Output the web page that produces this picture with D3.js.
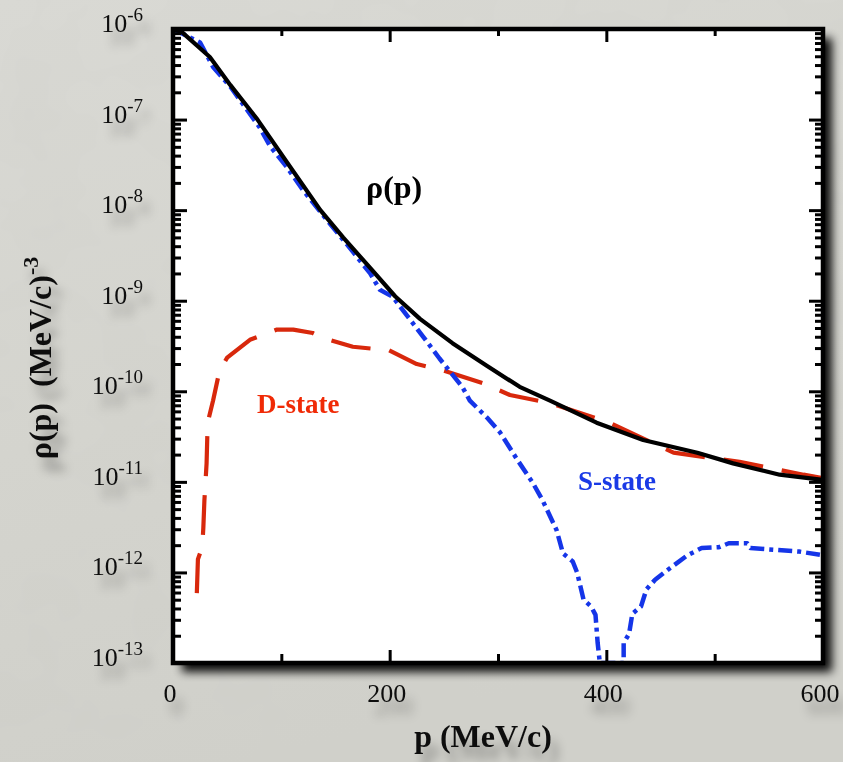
<!DOCTYPE html>
<html>
<head>
<meta charset="utf-8">
<script src="https://cdn.jsdelivr.net/npm/d3@7"></script>
<style>
  html, body { margin: 0; padding: 0; background: #d6d6d0; }
  svg { display: block; }
  text { font-family: "Liberation Serif", "Times New Roman", Times, serif; }
</style>
</head>
<body>
<svg id="chart" width="843" height="762"></svg>
<script>
// Momentum distribution of the nucleon: total, S-wave and D-wave parts.
const totalP   = [0, 8, 34, 53, 78, 105, 136, 157, 182, 205, 228, 258, 290, 320, 348, 391, 434, 484, 517, 560, 594, 600];
const totalRho = [1.0e-6, 9.3e-7, 4.9e-7, 2.4e-7, 1.0e-7, 3.4e-8, 1.0e-8, 5.0e-9, 2.3e-9, 1.12e-9, 6.3e-10, 3.4e-10,
                  1.9e-10, 1.12e-10, 7.9e-11, 4.5e-11, 2.9e-11, 2.1e-11, 1.6e-11, 1.2e-11, 1.07e-11, 1.05e-11];

const sStateP   = [0, 25, 37, 53, 80, 90, 105, 120, 142, 165, 182, 191, 203, 210, 231, 246, 267, 274, 290, 302,
                   318, 332, 341, 354, 360, 369, 373, 379, 386, 390, 392, 394, 398, 413, 416, 416, 421, 424, 432,
                   437, 445, 459, 475, 488, 504, 513, 530, 533, 578, 600];
const sStateRho = [1.0e-6, 7.1e-7, 3.8e-7, 2.3e-7, 8.2e-8, 5.0e-8, 3.0e-8, 1.66e-8, 7.8e-9, 3.6e-9, 2.0e-9, 1.32e-9,
                   1.10e-9, 8.5e-10, 4.0e-10, 2.3e-10, 1.12e-10, 7.9e-11, 5.1e-11, 3.5e-11, 1.74e-11, 9.8e-12,
                   6.3e-12, 2.95e-12, 1.62e-12, 1.32e-12, 1.0e-12, 5.0e-13, 4.2e-13, 3.4e-13, 1.66e-13, 1.0e-13,
                   1.0e-13, 1.0e-13, 1.0e-13, 1.66e-13, 2.1e-13, 3.5e-13, 4.2e-13, 6.5e-13, 8.3e-13, 1.12e-12,
                   1.55e-12, 1.86e-12, 1.9e-12, 2.1e-12, 2.1e-12, 1.86e-12, 1.7e-12, 1.55e-12];

const dStateP   = [22, 23, 27, 28, 29, 31, 32, 37, 43, 50, 71, 96, 111, 129, 138, 166, 191, 198, 225, 249, 286,
                   311, 348, 403, 462, 523, 582, 600];
const dStateRho = [5.9e-13, 1.4e-12, 1.9e-12, 3.1e-12, 6.3e-12, 1.6e-11, 4.5e-11, 7.9e-11, 1.7e-10, 2.35e-10,
                   3.7e-10, 4.8e-10, 4.8e-10, 4.4e-10, 3.9e-10, 3.1e-10, 2.9e-10, 2.9e-10, 2.0e-10, 1.7e-10,
                   1.23e-10, 9.1e-11, 7.4e-11, 4.5e-11, 2.1e-11, 1.66e-11, 1.2e-11, 1.1e-11];

const xMajorTicks = [0, 200, 400, 600];
const xMinorTicks = [100, 300, 500];
const yExponents  = [-13, -12, -11, -10, -9, -8, -7, -6];

const W = 843, H = 762;
const plot = { left: 173, right: 823, top: 29, bottom: 663 };

const svg = d3.select("#chart");
const defs = svg.append("defs");

// ---- filters and paints ----
const bgGrad = defs.append("linearGradient").attr("id", "bgGrad")
  .attr("x1", 0).attr("y1", 0).attr("x2", 0.3).attr("y2", 1);
bgGrad.append("stop").attr("offset", "0%").attr("stop-color", "#dcdcd7");
bgGrad.append("stop").attr("offset", "55%").attr("stop-color", "#d7d7d1");
bgGrad.append("stop").attr("offset", "100%").attr("stop-color", "#d3d3cd");

const grain = defs.append("filter").attr("id", "grain")
  .attr("x", 0).attr("y", 0).attr("width", 1).attr("height", 1);
grain.append("feTurbulence").attr("type", "fractalNoise").attr("baseFrequency", 0.85)
  .attr("numOctaves", 2).attr("seed", 3).attr("result", "n");
grain.append("feColorMatrix").attr("in", "n").attr("type", "matrix")
  .attr("values", "0 0 0 0 0.45  0 0 0 0 0.45  0 0 0 0 0.42  0 0 0 0 0.08");

const mottle = defs.append("filter").attr("id", "mottle")
  .attr("x", 0).attr("y", 0).attr("width", 1).attr("height", 1);
mottle.append("feTurbulence").attr("type", "fractalNoise").attr("baseFrequency", 0.012)
  .attr("numOctaves", 3).attr("seed", 11).attr("result", "n");
mottle.append("feColorMatrix").attr("in", "n").attr("type", "matrix")
  .attr("values", "0 0 0 0 0.6  0 0 0 0 0.6  0 0 0 0 0.57  0 0 0 -0.35 0.2");

const frameBlur = defs.append("filter").attr("id", "frameBlur")
  .attr("x", "-10%").attr("y", "-10%").attr("width", "120%").attr("height", "120%");
frameBlur.append("feGaussianBlur").attr("stdDeviation", 5);

const soft = defs.append("filter").attr("id", "soft")
  .attr("x", "-30%").attr("y", "-40%").attr("width", "160%").attr("height", "220%");
soft.append("feGaussianBlur").attr("in", "SourceAlpha").attr("stdDeviation", 5).attr("result", "b");
soft.append("feOffset").attr("in", "b").attr("dx", 7).attr("dy", 13).attr("result", "o");
soft.append("feFlood").attr("flood-color", "#000").attr("flood-opacity", 0.3).attr("result", "f");
soft.append("feComposite").attr("in", "f").attr("in2", "o").attr("operator", "in").attr("result", "s");
const sm = soft.append("feMerge");
sm.append("feMergeNode").attr("in", "s");
sm.append("feMergeNode").attr("in", "SourceGraphic");

defs.append("clipPath").attr("id", "plotClip").append("rect")
  .attr("x", plot.left).attr("y", plot.top)
  .attr("width", plot.right - plot.left).attr("height", plot.bottom - plot.top);

// ---- background ----
svg.append("rect").attr("width", W).attr("height", H).attr("fill", "url(#bgGrad)");
svg.append("rect").attr("width", W).attr("height", H).attr("filter", "url(#mottle)");
svg.append("rect").attr("width", W).attr("height", H).attr("filter", "url(#grain)");

// ---- scales ----
const x = d3.scaleLinear().domain([0, 600]).range([plot.left, plot.right]);
const y = d3.scaleLog().domain([1e-13, 1e-6]).range([plot.bottom, plot.top]);

// ---- plot panel with drop shadow ----
svg.append("rect")
  .attr("x", plot.left + 9).attr("y", plot.top + 9)
  .attr("width", plot.right - plot.left).attr("height", plot.bottom - plot.top)
  .attr("fill", "#000").attr("opacity", 0.95).attr("filter", "url(#frameBlur)");
svg.append("rect")
  .attr("x", plot.left).attr("y", plot.top)
  .attr("width", plot.right - plot.left).attr("height", plot.bottom - plot.top)
  .attr("fill", "#fff");

// ---- curves ----
const line = d3.line().x(d => x(d[0])).y(d => y(d[1]));
const curves = svg.append("g").attr("clip-path", "url(#plotClip)")
  .attr("fill", "none").attr("stroke-linejoin", "round");

curves.append("path")
  .attr("d", line(dStateP.map((p, i) => [p, dStateRho[i]])))
  .attr("stroke", "#d8280c").attr("stroke-width", 4.2)
  .attr("stroke-dasharray", "40,19");

curves.append("path")
  .attr("d", line(sStateP.map((p, i) => [p, sStateRho[i]])))
  .attr("stroke", "#1535e8").attr("stroke-width", 4.5)
  .attr("stroke-dasharray", "14,5,4,5");

curves.append("path")
  .attr("d", line(totalP.map((p, i) => [p, totalRho[i]])))
  .attr("stroke", "#000").attr("stroke-width", 4.2);

// ---- axes (ticks drawn inward on all four sides) ----
const yMajor = yExponents.map(e => Math.pow(10, e));
const yMinor = [];
yExponents.slice(0, -1).forEach(e => {
  for (let m = 2; m <= 9; m++) yMinor.push(m * Math.pow(10, e));
});

function styleAxis(g) {
  g.select(".domain").remove();
  g.selectAll(".tick line").attr("stroke", "#000").attr("stroke-width", 3);
  g.selectAll(".tick text").remove();
}

svg.append("g").attr("transform", `translate(${plot.left},0)`)
  .call(d3.axisLeft(y).tickValues(yMajor).tickSize(-14).tickFormat("")).call(styleAxis);
svg.append("g").attr("transform", `translate(${plot.left},0)`)
  .call(d3.axisLeft(y).tickValues(yMinor).tickSize(-8).tickFormat("")).call(styleAxis);
svg.append("g").attr("transform", `translate(${plot.right},0)`)
  .call(d3.axisRight(y).tickValues(yMajor).tickSize(-14).tickFormat("")).call(styleAxis);
svg.append("g").attr("transform", `translate(${plot.right},0)`)
  .call(d3.axisRight(y).tickValues(yMinor).tickSize(-8).tickFormat("")).call(styleAxis);

svg.append("g").attr("transform", `translate(0,${plot.bottom})`)
  .call(d3.axisBottom(x).tickValues(xMajorTicks).tickSize(-13).tickFormat("")).call(styleAxis);
svg.append("g").attr("transform", `translate(0,${plot.bottom})`)
  .call(d3.axisBottom(x).tickValues(xMinorTicks).tickSize(-9).tickFormat("")).call(styleAxis);
svg.append("g").attr("transform", `translate(0,${plot.top})`)
  .call(d3.axisTop(x).tickValues(xMajorTicks).tickSize(-13).tickFormat("")).call(styleAxis);
svg.append("g").attr("transform", `translate(0,${plot.top})`)
  .call(d3.axisTop(x).tickValues(xMinorTicks).tickSize(-7).tickFormat("")).call(styleAxis);

// frame
svg.append("rect")
  .attr("x", plot.left).attr("y", plot.top)
  .attr("width", plot.right - plot.left).attr("height", plot.bottom - plot.top)
  .attr("fill", "none").attr("stroke", "#000").attr("stroke-width", 4.5);

// ---- tick labels ----
const labels = svg.append("g").attr("filter", "url(#soft)").attr("fill", "#111");

yExponents.forEach(e => {
  const t = labels.append("text")
    .attr("x", plot.left - 30).attr("y", y(Math.pow(10, e)) + 3)
    .attr("text-anchor", "end").attr("font-size", 26);
  t.append("tspan").text("10");
  t.append("tspan").attr("dy", -11).attr("font-size", 19).text(String(e));
});

xMajorTicks.forEach(v => {
  labels.append("text")
    .attr("x", x(v) - 3).attr("y", 702)
    .attr("text-anchor", "middle").attr("font-size", 26)
    .text(v);
});

// ---- axis titles ----
labels.append("text")
  .attr("x", 483).attr("y", 747)
  .attr("text-anchor", "middle").attr("font-size", 32).attr("font-weight", "bold")
  .text("p (MeV/c)");

const yTitle = labels.append("text")
  .attr("transform", "translate(51,358) rotate(-90)")
  .attr("text-anchor", "middle").attr("font-size", 32).attr("font-weight", "bold");
yTitle.append("tspan").text("\u03c1(p)\u00a0\u00a0(MeV/c)");
yTitle.append("tspan").attr("dy", -13).attr("font-size", 22).text("-3");

// ---- curve annotations ----
svg.append("text")
  .attr("x", 366).attr("y", 198)
  .attr("font-size", 32).attr("font-weight", "bold").attr("fill", "#000")
  .text("\u03c1(p)");
svg.append("text")
  .attr("x", 257).attr("y", 413)
  .attr("font-size", 27).attr("font-weight", "bold").attr("fill", "#f02a06")
  .text("D-state");
svg.append("text")
  .attr("x", 578).attr("y", 490)
  .attr("font-size", 27).attr("font-weight", "bold").attr("fill", "#1a3ae6")
  .text("S-state");
</script>
</body>
</html>
